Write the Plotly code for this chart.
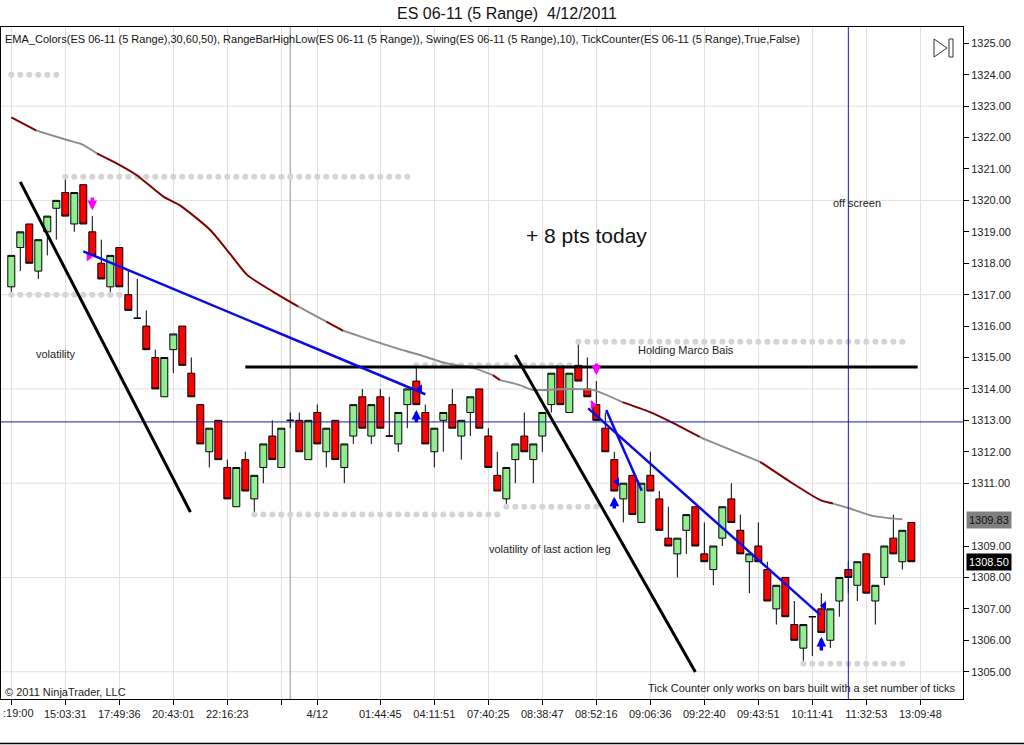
import plotly.graph_objects as go

# ---------------- data ----------------
opens = [1317.25, 1318.50, 1319.25, 1317.75, 1319.00, 1319.75, 1320.25, 1319.25, 1320.50, 1319.00,
         1318.00, 1317.25, 1318.50, 1317.00, 1316.25, 1316.00, 1315.00, 1313.75, 1315.25, 1316.00,
         1314.50, 1313.50, 1312.00, 1313.00, 1311.50, 1310.25, 1311.75, 1310.50, 1311.50, 1312.50,
         1311.50, 1313.00, 1313.00, 1311.75, 1313.25, 1312.00, 1313.00, 1311.50, 1312.50, 1313.75,
         1312.50, 1313.75, 1312.50, 1312.25, 1313.50, 1314.25, 1313.25, 1312.00, 1313.00, 1313.50,
         1312.50, 1313.25, 1314.00, 1312.50, 1311.25, 1310.50, 1311.75, 1312.50, 1311.75, 1312.50,
         1313.50, 1314.75, 1313.25, 1314.75, 1314.00, 1313.50, 1312.75, 1311.75, 1310.50, 1311.25,
         1309.75, 1311.25, 1310.50, 1309.25, 1308.75, 1309.50, 1310.25, 1308.75, 1308.25, 1309.25,
         1310.50, 1309.50, 1308.50, 1309.00, 1308.25, 1307.00, 1308.00, 1306.50, 1305.75, 1306.75,
         1307.00, 1306.00, 1307.25, 1308.25, 1307.75, 1308.75, 1307.25, 1308.00, 1309.25, 1308.50,
         1309.75]
highs = [1318.25, 1319.00, 1319.25, 1318.75, 1319.50, 1320.00, 1320.75, 1320.25, 1320.50, 1319.50,
         1318.75, 1318.25, 1318.50, 1317.75, 1317.50, 1316.50, 1315.25, 1315.00, 1315.75, 1316.00,
         1315.00, 1313.50, 1312.75, 1313.00, 1311.75, 1311.50, 1312.00, 1311.25, 1312.25, 1313.00,
         1312.75, 1313.25, 1313.25, 1313.00, 1313.50, 1312.75, 1313.00, 1312.25, 1313.50, 1314.00,
         1313.50, 1314.00, 1313.75, 1313.25, 1314.00, 1314.75, 1313.50, 1312.75, 1313.25, 1314.00,
         1313.00, 1313.75, 1314.00, 1312.75, 1312.00, 1311.50, 1312.25, 1313.25, 1312.25, 1313.25,
         1314.50, 1314.75, 1314.50, 1315.50, 1315.00, 1314.25, 1313.25, 1312.00, 1311.00, 1311.25,
         1311.00, 1312.00, 1310.75, 1310.25, 1309.25, 1310.00, 1310.25, 1309.75, 1309.00, 1310.25,
         1311.00, 1310.00, 1308.75, 1309.75, 1308.50, 1307.75, 1308.00, 1307.25, 1306.50, 1306.75,
         1307.50, 1307.00, 1308.00, 1308.50, 1308.50, 1308.75, 1307.75, 1309.00, 1310.00, 1309.50,
         1309.75]
lows = [1317.00, 1317.75, 1318.00, 1317.50, 1318.25, 1318.75, 1319.50, 1319.00, 1319.25, 1318.25,
        1317.50, 1317.00, 1317.25, 1316.50, 1316.25, 1315.25, 1314.00, 1313.75, 1314.50, 1314.75,
        1313.75, 1312.25, 1311.50, 1311.75, 1310.50, 1310.25, 1310.75, 1310.00, 1311.00, 1311.75,
        1311.50, 1312.75, 1312.00, 1311.75, 1312.25, 1311.50, 1311.75, 1311.00, 1312.25, 1312.75,
        1312.25, 1312.75, 1312.50, 1312.00, 1312.75, 1313.50, 1312.25, 1311.50, 1312.00, 1312.75,
        1311.75, 1312.50, 1312.75, 1311.50, 1310.75, 1310.25, 1311.00, 1312.00, 1311.00, 1312.00,
        1313.25, 1313.50, 1313.25, 1314.25, 1313.75, 1313.00, 1312.00, 1310.75, 1309.75, 1310.00,
        1309.75, 1310.75, 1309.50, 1309.00, 1308.00, 1308.75, 1309.00, 1308.50, 1307.75, 1309.00,
        1309.75, 1308.75, 1307.50, 1308.50, 1307.25, 1306.50, 1306.75, 1306.00, 1305.25, 1305.50,
        1306.25, 1305.75, 1306.75, 1307.50, 1307.25, 1307.50, 1306.50, 1307.75, 1308.75, 1308.25,
        1308.50]
closes = [1318.25, 1319.00, 1318.00, 1318.75, 1319.50, 1320.00, 1319.50, 1320.25, 1319.25, 1318.25,
          1317.50, 1318.25, 1317.25, 1316.50, 1316.25, 1315.25, 1314.00, 1315.00, 1315.75, 1314.75,
          1313.75, 1312.25, 1312.75, 1311.75, 1310.50, 1311.50, 1310.75, 1311.25, 1312.25, 1311.75,
          1312.75, 1313.00, 1312.00, 1313.00, 1312.25, 1312.75, 1311.75, 1312.25, 1313.50, 1312.75,
          1313.50, 1312.75, 1312.50, 1313.25, 1314.00, 1313.50, 1312.25, 1312.75, 1313.25, 1312.75,
          1313.00, 1313.75, 1312.75, 1311.50, 1310.75, 1311.50, 1312.25, 1312.00, 1312.25, 1313.25,
          1314.50, 1313.50, 1314.50, 1314.25, 1313.75, 1313.00, 1312.00, 1310.75, 1311.00, 1310.00,
          1311.00, 1310.75, 1309.50, 1309.00, 1309.25, 1310.00, 1309.00, 1308.50, 1309.00, 1310.25,
          1309.75, 1308.75, 1308.75, 1308.50, 1307.25, 1307.75, 1306.75, 1306.00, 1306.50, 1306.75,
          1306.25, 1307.00, 1308.00, 1308.00, 1308.50, 1307.50, 1307.75, 1309.00, 1308.75, 1309.50,
          1308.50]

# x tick positions (bar index) and labels
tick_bars = [0, 6, 12, 18, 24, 30, 34, 41, 47, 53, 59, 65, 71, 77, 83, 89, 95, 101]
tick_labels = ["", "15:03:31", "17:49:36", "20:43:01", "22:16:23", "", "4/12", "01:44:45",
               "04:11:51", "07:40:25", "08:38:47", "08:52:16", "09:06:36", "09:22:40",
               "09:43:51", "10:11:41", "11:32:53", "13:09:48"]
first_label = ":19:00"
session_break_bar = 31
# price-axis labels (1310.00 sits under the EMA value marker in the reference)
y_tick_vals = [1305, 1306, 1307, 1308, 1309, 1311, 1312, 1313, 1314, 1315, 1316, 1317,
               1318, 1319, 1320, 1321, 1322, 1323, 1324, 1325]

# EMA line points (bar index, value) and colour of the segment that starts there
ema_x = [0.0, 2.8, 6.2, 7.8, 9.5, 11.7, 13.9, 16.9, 18.7, 22.1, 24.3, 26.2, 29.1, 31.9, 35.0,
         36.9, 39.9, 43.2, 45.4, 48.4, 51.3, 53.5, 54.3, 56.5, 57.9, 61.7, 64.6, 67.9, 70.9,
         73.5, 76.5, 77.3, 83.2, 86.5, 89.9, 91.3, 93.0, 95.7, 99.0]
ema_y = [1322.64, 1322.22, 1321.92, 1321.79, 1321.50, 1321.18, 1320.81, 1320.12, 1319.85,
         1319.06, 1318.30, 1317.63, 1317.09, 1316.62, 1316.14, 1315.85, 1315.56, 1315.26,
         1315.08, 1314.81, 1314.67, 1314.44, 1314.28, 1314.12, 1313.97, 1314.00, 1313.97,
         1313.58, 1313.27, 1312.92, 1312.47, 1312.37, 1311.68, 1311.05, 1310.46, 1310.35,
         1310.21, 1309.96, 1309.85]
ema_seg = ["R", "G", "G", "G", "R", "R", "R", "R", "R", "R", "R", "R", "R", "G", "R",
           "G", "G", "G", "G", "G", "G", "R", "G", "G", "G", "G", "G", "R", "R", "R",
           "G", "G", "R", "R", "R", "G", "G", "G"]
ema_last = 1309.83
last_price = 1308.50

# swing high/low dot rows: start bar, end bar, price
swing_start = [0, 6, 0, 45, 63, 27, 55, 88]
swing_end = [5, 44, 12, 62, 99, 54, 65, 99]
swing_price = [1324.00, 1320.75, 1317.00, 1314.75, 1315.50, 1310.00, 1310.25, 1305.25]

# drawn trend lines: (bar0, price0, bar1, price1)
black_lines = [(1.0, 1320.59, 19.9, 1310.08), (26.0, 1314.70, 100.7, 1314.70),
               (56.0, 1315.08, 76.0, 1304.99)]
blue_lines = [(8.0, 1318.38, 46.0, 1313.83), (64.1, 1313.38, 89.9, 1306.80),
              (66.1, 1313.33, 70.05, 1310.76)]
cross_price = 1312.95
cross_bar = 93.0

# swing arrows: bar, tail price, head price
down_arrows = [(9, 1320.14, 1319.69), (65, 1314.86, 1314.44)]
up_arrows = [(45, 1312.89, 1313.33), (67, 1310.15, 1310.57), (90, 1305.63, 1306.11)]
mag_tri_x = [8.6, 64.6]
mag_tri_y = [1318.20, 1313.50]
blue_tri_x = [45.4, 67.3, 90.3]
blue_tri_y = [1314.00, 1311.04, 1307.10]

# ---------------- figure ----------------
W, H = 1024, 745
ML, MR, MT, MB = 1, 61, 27, 46
XR = [-1.144, 105.74]
YR = [1304.131, 1325.519]
PW = W - ML - MR
PH = H - MT - MB


def px_x(px):
    return (px - ML) / PW


def px_y(py):
    return 1 - (py - MT) / PH


fig = go.Figure()

# swing dots
for s, e, p in zip(swing_start, swing_end, swing_price):
    xs = list(range(s, e + 1))
    fig.add_trace(go.Scatter(x=xs, y=[p] * len(xs), mode="markers",
                             marker=dict(color="#d4d4d4", size=6), hoverinfo="skip",
                             showlegend=False))

# EMA
DARK, GREY = "#800000", "#8c8c8c"
k = 0
while k < len(ema_seg):
    c = ema_seg[k]
    j = k
    while j < len(ema_seg) and ema_seg[j] == c:
        j += 1
    fig.add_trace(go.Scatter(x=ema_x[k:j + 1], y=ema_y[k:j + 1], mode="lines",
                             line=dict(color=DARK if c == "R" else GREY, width=2, shape="spline",
                                       smoothing=0.6),
                             hoverinfo="skip", showlegend=False))
    k = j

# candles
fig.add_trace(go.Candlestick(
    x=list(range(len(opens))), open=opens, high=highs, low=lows, close=closes,
    increasing=dict(fillcolor="#90ee90", line=dict(color="black", width=1)),
    decreasing=dict(fillcolor="#ff0000", line=dict(color="black", width=1)),
    whiskerwidth=0, showlegend=False, hoverinfo="skip"))

# small triangles
fig.add_trace(go.Scatter(x=mag_tri_x, y=mag_tri_y, mode="markers",
                         marker=dict(symbol="triangle-right", color="#ff00ff", size=8),
                         showlegend=False, hoverinfo="skip"))
fig.add_trace(go.Scatter(x=blue_tri_x, y=blue_tri_y, mode="markers",
                         marker=dict(symbol="triangle-left", color="#0000ff", size=8),
                         showlegend=False, hoverinfo="skip"))

# price markers on the axis
fig.add_trace(go.Scatter(x=[106.05, 106.05], y=[ema_last, last_price], mode="markers",
                         marker=dict(symbol="triangle-left", color=["#808080", "#000000"], size=12),
                         cliponaxis=False, showlegend=False, hoverinfo="skip"))

shapes = []
# horizontal grid every 3 points
for g in range(1305, 1326, 3):
    shapes.append(dict(type="line", xref="paper", x0=0, x1=1, yref="y", y0=g, y1=g,
                       line=dict(color="#e0e0e0", width=1), layer="below"))
# session break
shapes.append(dict(type="line", xref="x", x0=session_break_bar, x1=session_break_bar,
                   yref="paper", y0=0, y1=1, line=dict(color="#b4b4b4", width=1.5), layer="below"))
# crosshair
shapes.append(dict(type="line", xref="paper", x0=0, x1=1, yref="y", y0=cross_price, y1=cross_price,
                   line=dict(color="#1a1aa0", width=1)))
shapes.append(dict(type="line", xref="x", x0=cross_bar, x1=cross_bar, yref="paper", y0=0, y1=1,
                   line=dict(color="#1a1aa0", width=1)))
for x0, y0, x1, y1 in black_lines:
    shapes.append(dict(type="line", xref="x", yref="y", x0=x0, y0=y0, x1=x1, y1=y1,
                       line=dict(color="black", width=3)))
for x0, y0, x1, y1 in blue_lines:
    shapes.append(dict(type="line", xref="x", yref="y", x0=x0, y0=y0, x1=x1, y1=y1,
                       line=dict(color="#0a0ae6", width=2.5)))
# play icon
shapes.append(dict(type="path", xref="paper", yref="paper",
                   path=f"M {px_x(934)} {px_y(39)} L {px_x(934)} {px_y(57)} L {px_x(947)} {px_y(48)} Z",
                   line=dict(color="#333", width=1), fillcolor="white"))
shapes.append(dict(type="rect", xref="paper", yref="paper", x0=px_x(949), x1=px_x(953),
                   y0=px_y(57), y1=px_y(39), line=dict(color="#333", width=1), fillcolor="white"))
# bottom frame line
shapes.append(dict(type="line", xref="paper", yref="paper", x0=px_x(0), x1=px_x(1024),
                   y0=px_y(743.5), y1=px_y(743.5), line=dict(color="black", width=1.5)))

ann = []
FONT = "Liberation Sans, Arial, sans-serif"
for b, t, h in down_arrows:
    ann.append(dict(x=b, y=h, ax=b, ay=t, xref="x", yref="y", axref="x", ayref="y", text="",
                    showarrow=True, arrowhead=2, arrowsize=0.55, arrowwidth=3.5, arrowcolor="#ff00ff"))
for b, t, h in up_arrows:
    ann.append(dict(x=b, y=h, ax=b, ay=t, xref="x", yref="y", axref="x", ayref="y", text="",
                    showarrow=True, arrowhead=2, arrowsize=0.55, arrowwidth=3.5, arrowcolor="#0000ff"))


def txt(text, x, y, size=11, xref="x", yref="y", xanchor="center", color="#222"):
    ann.append(dict(text=text, x=x, y=y, xref=xref, yref=yref, xanchor=xanchor, yanchor="middle",
                    showarrow=False, font=dict(family=FONT, size=size, color=color)))


txt("EMA_Colors(ES 06-11 (5 Range),30,60,50), RangeBarHighLow(ES 06-11 (5 Range)), "
    "Swing(ES 06-11 (5 Range),10), TickCounter(ES 06-11 (5 Range),True,False)",
    px_x(3), px_y(39), size=11, xref="paper", yref="paper", xanchor="left", color="#111")
txt("volatility", 4.97, 1315.11)
txt("+ 8 pts today", 63.9, 1318.87, size=21, color="#111")
txt("off screen", 93.97, 1319.92)
txt("Holding Marco Bais", 75.0, 1315.24)
txt("volatility of last action leg", 59.9, 1308.90)
txt("© 2011 NinjaTrader, LLC", px_x(3), px_y(692), xref="paper", yref="paper", xanchor="left")
txt("Tick Counter only works on bars built with a set number of ticks", px_x(958), px_y(688),
    xref="paper", yref="paper", xanchor="right")
txt(first_label, px_x(1), px_y(713), xref="paper", yref="paper", xanchor="left")
ann.append(dict(text=f"{ema_last:.2f}", x=1, xref="paper", y=ema_last, yref="y", xanchor="left",
                xshift=3, showarrow=False, bgcolor="#808080", borderpad=2,
                font=dict(family=FONT, size=11, color="#111")))
ann.append(dict(text=f"{last_price:.2f}", x=1, xref="paper", y=last_price, yref="y", xanchor="left",
                xshift=3, showarrow=False, bgcolor="#000000", borderpad=2,
                font=dict(family=FONT, size=11, color="white")))

fig.update_layout(
    width=W, height=H, margin=dict(l=ML, r=MR, t=MT, b=MB),
    paper_bgcolor="white", plot_bgcolor="white",
    boxgap=0.12, boxgroupgap=0.12,
    title=dict(text="ES 06-11 (5 Range) \u00a04/12/2011", x=507 / W, xanchor="center",
               y=1 - 13 / H, yanchor="middle", font=dict(family=FONT, size=16, color="#111")),
    shapes=shapes, annotations=ann, showlegend=False,
    xaxis=dict(range=XR, tickmode="array", tickvals=tick_bars, ticktext=tick_labels,
               showgrid=True, gridcolor="#e0e0e0", gridwidth=1, zeroline=False,
               showline=True, linecolor="black", linewidth=1, mirror=True,
               ticks="outside", ticklen=5, tickcolor="black",
               tickfont=dict(family=FONT, size=11, color="#222"),
               rangeslider=dict(visible=False), fixedrange=True),
    yaxis=dict(range=YR, side="right", tickmode="array", tickvals=y_tick_vals,
               tickformat=".2f", showgrid=False, zeroline=False, showline=True,
               linecolor="black", linewidth=1, mirror=True, ticks="outside", ticklen=5,
               tickcolor="black", tickfont=dict(family=FONT, size=11, color="#222"),
               fixedrange=True),
)

fig.write_html("out.html", config={"displayModeBar": False},
               post_script="document.body.style.margin='0';document.body.style.overflow='hidden';")
